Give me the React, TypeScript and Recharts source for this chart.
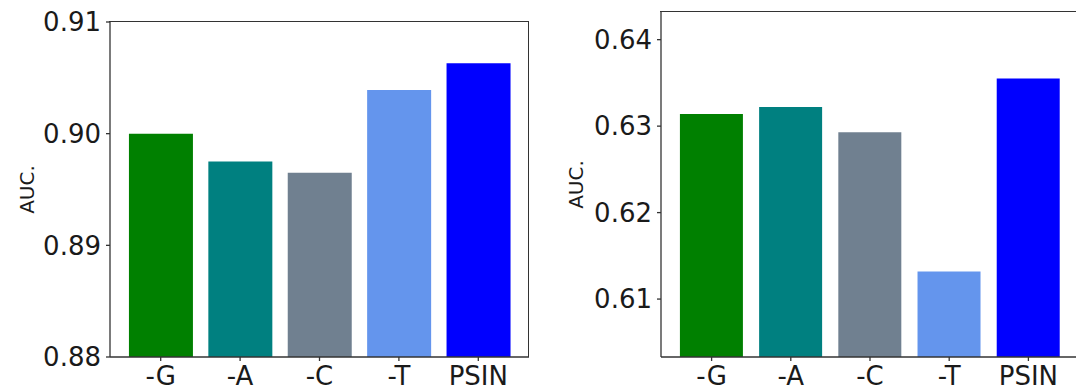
import { BarChart, Bar, Cell, XAxis, YAxis } from "recharts";

const categories = ["-G", "-A", "-C", "-T", "PSIN"];
const leftAuc = [0.9, 0.8975, 0.8965, 0.9039, 0.9063];
const rightAuc = [0.6314, 0.6322, 0.6293, 0.6132, 0.6355];
const barColors = ["#008000", "#008080", "#708090", "#6495ED", "#0000FF"];
const leftTicks = [0.88, 0.89, 0.9, 0.91];
const rightTicks = [0.61, 0.62, 0.63, 0.64];

const FONT = "'DejaVu Sans', sans-serif";
const SPINE = "#333";
const HEIGHT = 390;
const X_AXIS_H = 30;

const tickStyle = { fontSize: 26, fill: "#1a1a1a", fontFamily: FONT };
const lineStyle = { stroke: SPINE, strokeWidth: 1.3 };

interface PanelProps {
    values: number[];
    ticks: number[];
    domain: [number, number];
    width: number;
    margin: { top: number; right: number; bottom: number; left: number };
    yWidth: number;
    labelOffset: number;
    rightSpine: boolean;
}

function AucPanel({ values, ticks, domain, width, margin, yWidth, labelOffset, rightSpine }: PanelProps) {
    const data = categories.map((name, i) => ({ name, auc: values[i] }));
    // frame box around the plot area (matplotlib spines)
    const plotLeft = margin.left + yWidth;
    const plotTop = margin.top;
    const plotW = width - margin.right - plotLeft;
    const plotH = HEIGHT - margin.bottom - X_AXIS_H - plotTop;
    return (
        <div style={{ position: "relative", width, height: HEIGHT }}>
            <BarChart width={width} height={HEIGHT} data={data} margin={margin} barCategoryGap="10%">
                <XAxis
                    dataKey="name"
                    interval={0}
                    height={X_AXIS_H}
                    padding={{ left: 11, right: 11 }}
                    tick={tickStyle}
                    tickSize={4}
                    tickMargin={6}
                    axisLine={lineStyle}
                    tickLine={lineStyle}
                />
                <YAxis
                    type="number"
                    domain={domain}
                    allowDataOverflow
                    ticks={ticks}
                    width={yWidth}
                    tick={tickStyle}
                    tickSize={4}
                    tickMargin={5}
                    tickFormatter={(v: number) => v.toFixed(2)}
                    axisLine={lineStyle}
                    tickLine={lineStyle}
                    label={{
                        value: "AUC.",
                        angle: -90,
                        position: "insideLeft",
                        offset: labelOffset,
                        style: { textAnchor: "middle", fontSize: 20, fill: "#1a1a1a", fontFamily: FONT },
                    }}
                />
                <Bar dataKey="auc" isAnimationActive={false}>
                    {data.map((d, i) => (
                        <Cell key={d.name} fill={barColors[i]} />
                    ))}
                </Bar>
            </BarChart>
            <div
                style={{
                    position: "absolute",
                    left: plotLeft - 0.65,
                    top: plotTop - 0.65,
                    width: plotW,
                    height: plotH,
                    borderTop: `1.3px solid ${SPINE}`,
                    borderRight: rightSpine ? `1.3px solid ${SPINE}` : "none",
                    pointerEvents: "none",
                }}
            />
        </div>
    );
}

export default function App() {
    return (
        <div
            style={{
                position: "absolute",
                left: 0,
                top: 0,
                width: 1076,
                height: HEIGHT,
                overflow: "hidden",
                background: "#fff",
                fontFamily: FONT,
            }}
        >
            <div style={{ position: "absolute", left: 0, top: 0 }}>
                <AucPanel
                    values={leftAuc}
                    ticks={leftTicks}
                    domain={[0.88, 0.91]}
                    width={540}
                    margin={{ top: 22, right: 11, bottom: 3, left: 0 }}
                    yWidth={110}
                    labelOffset={27}
                    rightSpine
                />
            </div>
            <div style={{ position: "absolute", left: 540, top: 0 }}>
                <AucPanel
                    values={rightAuc}
                    ticks={rightTicks}
                    domain={[0.6033, 0.6432]}
                    width={545}
                    margin={{ top: 12, right: 6, bottom: 3, left: 0 }}
                    yWidth={121}
                    labelOffset={36}
                    rightSpine={false}
                />
            </div>
        </div>
    );
}
